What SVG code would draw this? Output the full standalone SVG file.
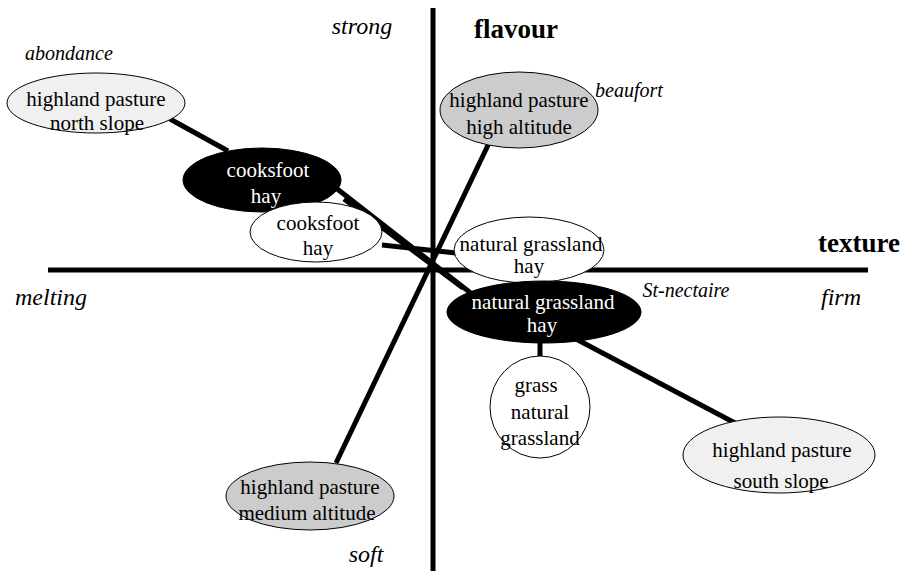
<svg xmlns="http://www.w3.org/2000/svg" width="910" height="571" viewBox="0 0 910 571" font-family="Liberation Serif, DejaVu Serif, serif">
<style>
text{text-anchor:middle;}
.n{font-size:21px;fill:#000;}
.w{font-size:21px;fill:#fff;}
.it{font-style:italic;font-size:24px;}
.its{font-style:italic;font-size:20px;}
.b{font-weight:bold;font-size:27px;}
.axis{stroke:#000;stroke-width:5;fill:none;}
.ln{stroke:#000;stroke-width:5;fill:none;}
.e{stroke:#000;stroke-width:1;}
</style>
<rect width="910" height="571" fill="#fff"/>
<g id="axes">
<line class="axis" x1="433" y1="8" x2="433" y2="571"/>
<line class="axis" x1="48" y1="270" x2="868" y2="270"/>
</g>
<g id="axis-labels">
<text class="it" x="362" y="34">strong</text>
<text class="b" x="516" y="38">flavour</text>
<text class="b" x="859" y="252">texture</text>
<text class="it" x="51" y="305">melting</text>
<text class="it" x="841" y="305">firm</text>
<text class="it" x="366" y="562">soft</text>
<text class="its" x="69" y="60">abondance</text>
<text class="its" x="629" y="97">beaufort</text>
<text class="its" x="686" y="297">St-nectaire</text>
</g>
<g id="connectors">
<line class="ln" x1="170" y1="119" x2="228" y2="151"/>
<line class="ln" x1="336" y1="188" x2="472" y2="294"/>
<line class="ln" x1="344" y1="199" x2="463" y2="288"/>
<line class="ln" x1="382" y1="245" x2="456" y2="253"/>
<line class="ln" x1="490" y1="141" x2="336" y2="463"/>
<line class="ln" x1="540" y1="343" x2="540" y2="360"/>
<line class="ln" x1="576" y1="339" x2="735" y2="423"/>
</g>
<g id="north-slope">
<ellipse class="e" cx="96" cy="103" rx="89" ry="30" fill="#f0f0f0"/>
<text class="n" x="96" y="106">highland pasture</text>
<text class="n" x="97" y="130">north slope</text>
</g>
<g id="cooksfoot-black">
<ellipse class="e" cx="262" cy="180" rx="79" ry="32" fill="#000"/>
<text class="w" x="268" y="177">cooksfoot</text>
<text class="w" x="266" y="203">hay</text>
</g>
<g id="cooksfoot-white">
<ellipse class="e" cx="316" cy="232" rx="66" ry="30" fill="#fff"/>
<text class="n" x="318" y="230">cooksfoot</text>
<text class="n" x="318" y="255">hay</text>
</g>
<g id="high-altitude">
<ellipse class="e" cx="519" cy="110" rx="79" ry="38" fill="#cccccc"/>
<text class="n" x="519" y="107">highland pasture</text>
<text class="n" x="519" y="134">high altitude</text>
</g>
<g id="natural-grassland-white">
<ellipse class="e" cx="529" cy="250" rx="75" ry="33" fill="#fff"/>
<text class="n" x="531" y="251">natural grassland</text>
<text class="n" x="529" y="273">hay</text>
</g>
<g id="natural-grassland-black">
<ellipse class="e" cx="544" cy="312" rx="97" ry="31" fill="#000"/>
<text class="w" x="543" y="309">natural grassland</text>
<text class="w" x="542" y="332">hay</text>
</g>
<g id="grass-natural-grassland">
<ellipse class="e" cx="540" cy="407" rx="50" ry="51" fill="#fff"/>
<text class="n" x="536" y="392">grass</text>
<text class="n" x="540" y="419">natural</text>
<text class="n" x="540" y="445">grassland</text>
</g>
<g id="south-slope">
<ellipse class="e" cx="779" cy="455" rx="96" ry="38" fill="#f0f0f0"/>
<text class="n" x="782" y="457">highland pasture</text>
<text class="n" x="781" y="488">south slope</text>
</g>
<g id="medium-altitude">
<ellipse class="e" cx="310" cy="496" rx="84" ry="34" fill="#cccccc"/>
<text class="n" x="310" y="494">highland pasture</text>
<text class="n" x="307" y="520">medium altitude</text>
</g>
</svg>
